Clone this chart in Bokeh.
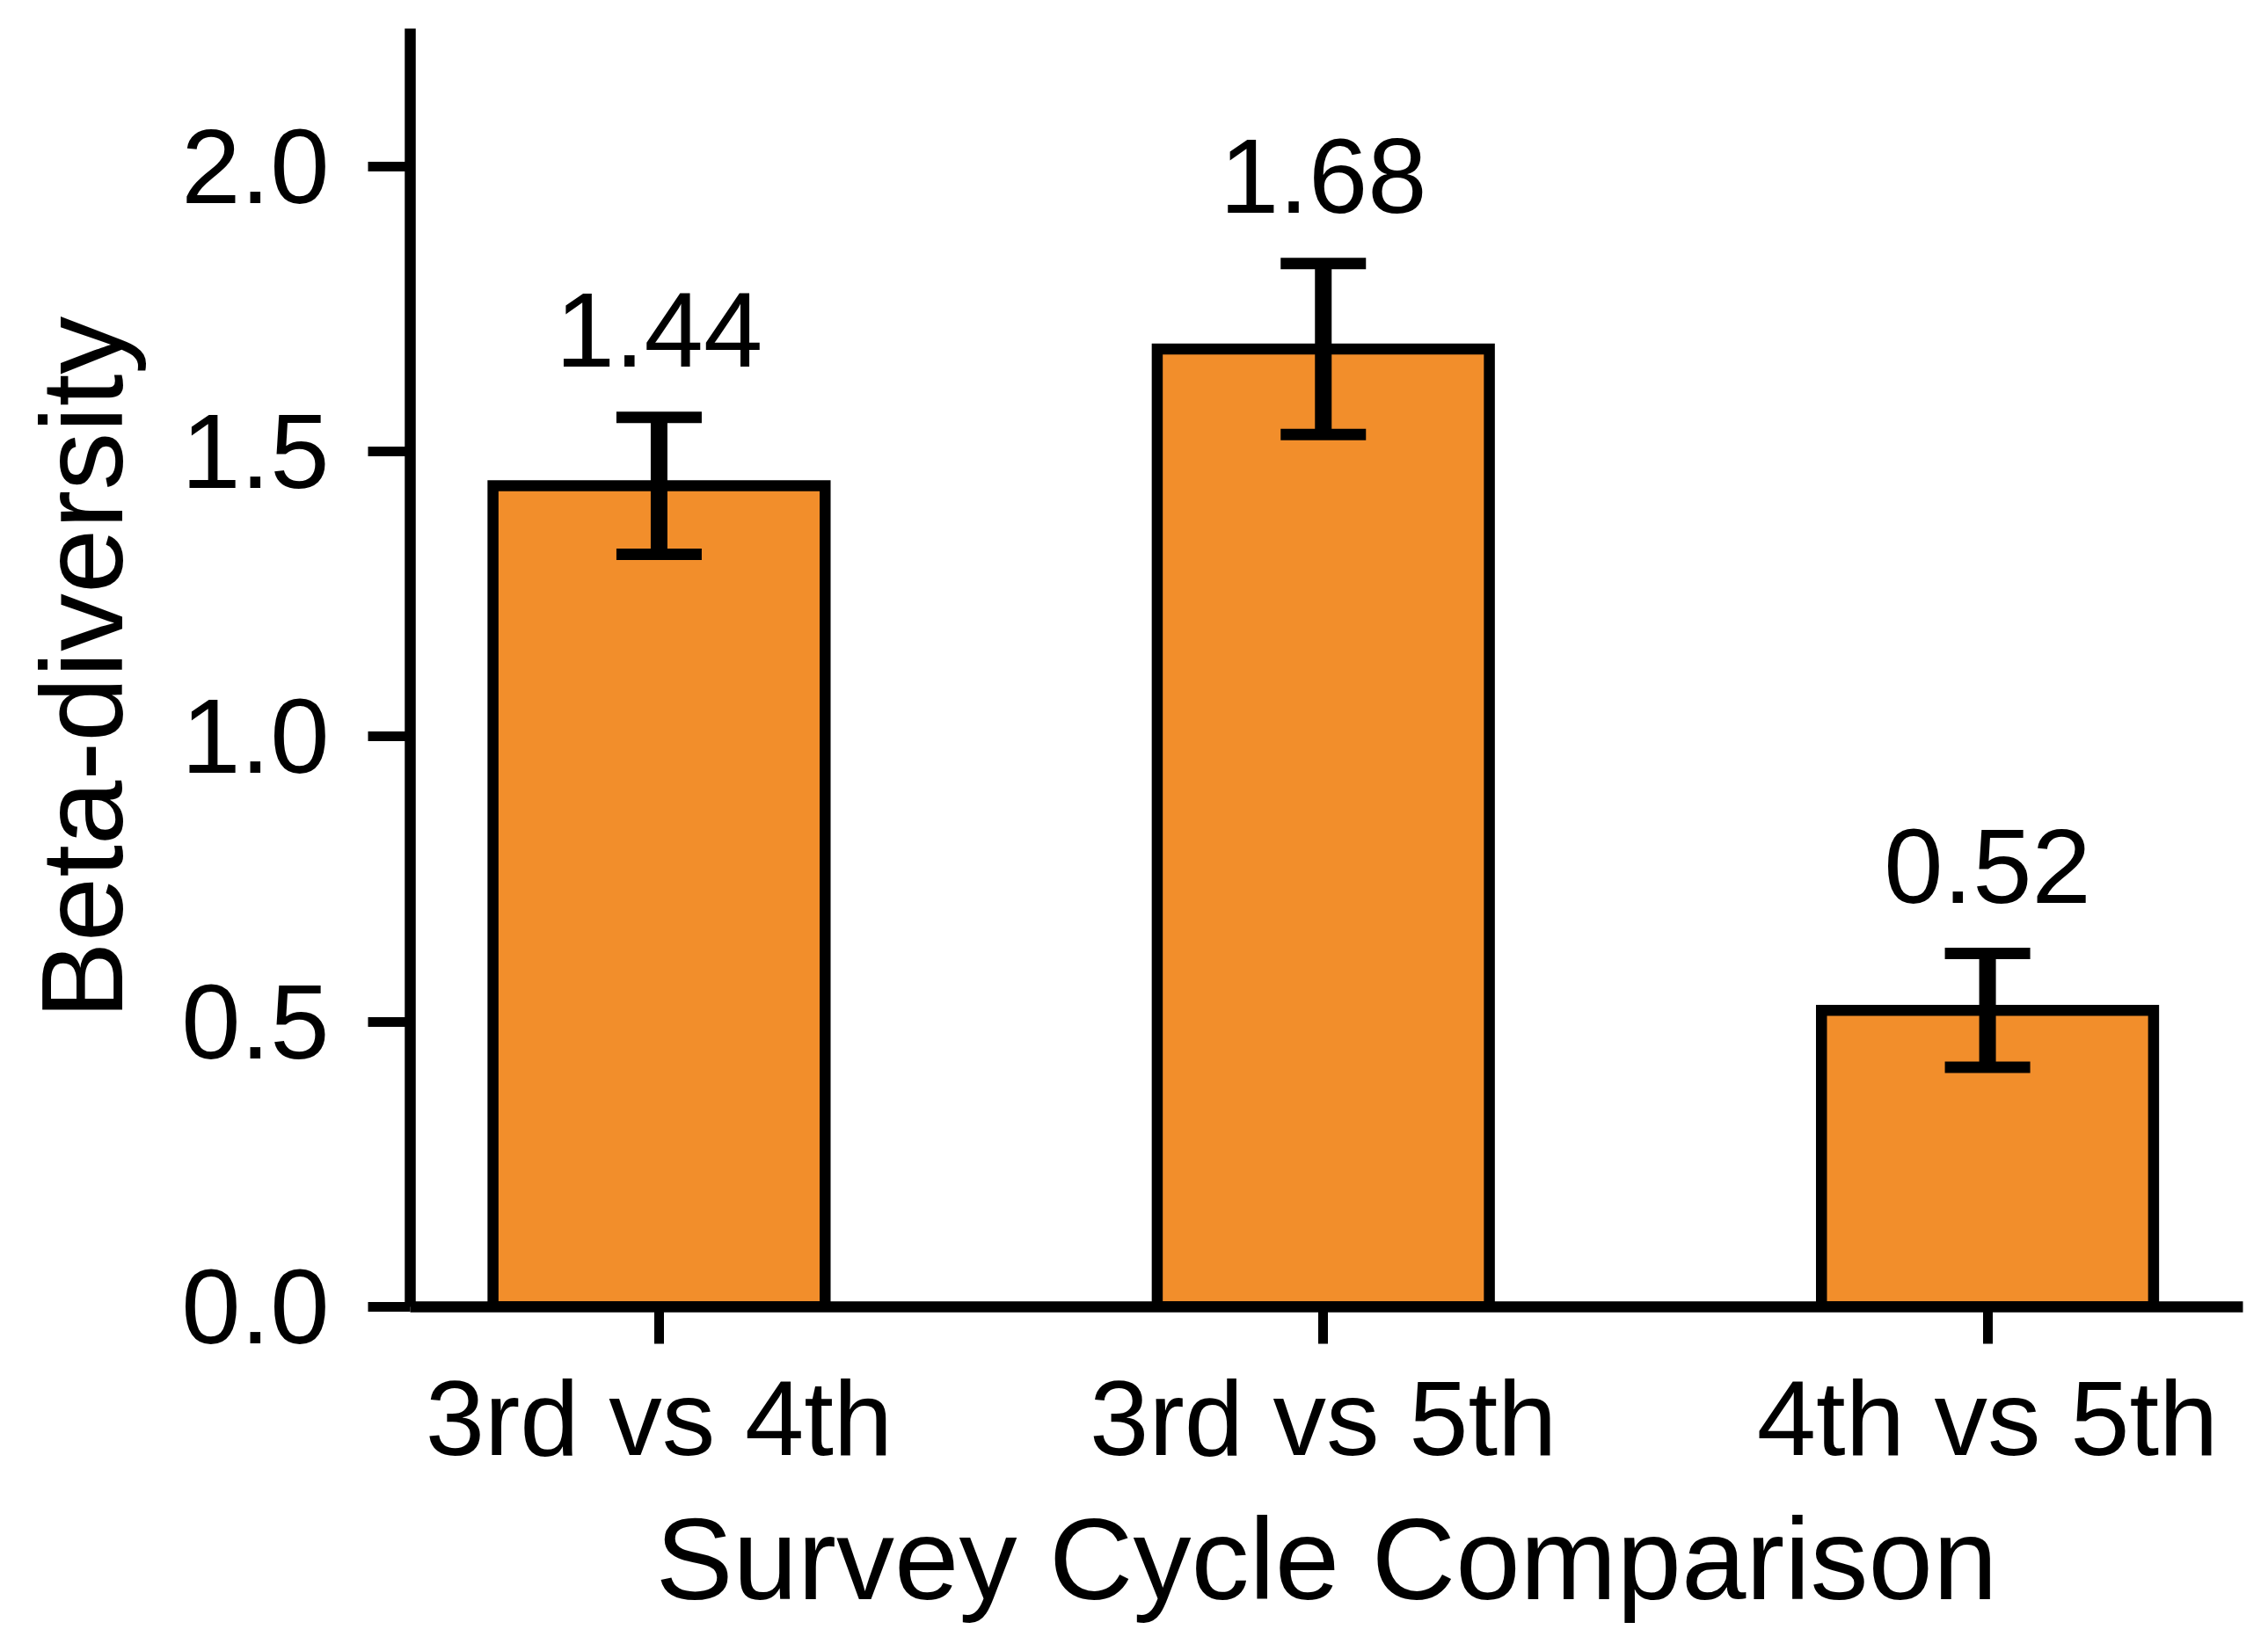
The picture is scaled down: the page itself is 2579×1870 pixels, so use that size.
from bokeh.plotting import figure
from bokeh.models import ColumnDataSource, Range1d, FixedTicker, Whisker, TeeHead, NumeralTickFormatter
from bokeh.core.properties import value
from bokeh.embed import file_html
from bokeh.resources import INLINE

categories = ["3rd vs 4th", "3rd vs 5th", "4th vs 5th"]
beta = [1.44, 1.68, 0.52]
err = [0.12, 0.15, 0.10]
y_ticks = [0.0, 0.5, 1.0, 1.5, 2.0]

xs = list(range(len(categories)))
src = ColumnDataSource(dict(
    x=xs, top=beta,
    upper=[b + e for b, e in zip(beta, err)],
    lower=[b - e for b, e in zip(beta, err)],
    label=[f"{b:.2f}" for b in beta],
))

FONT = "Liberation Sans"

p = figure(frame_width=2084, frame_height=1454,
           x_range=Range1d(-0.3746, 2.3845), y_range=Range1d(0, 2.242),
           output_backend="svg", toolbar_location=None,
           min_border_left=466, min_border_right=13, min_border_top=32, min_border_bottom=368)
p.outline_line_color = None
p.background_fill_color = "white"
p.border_fill_color = "white"
p.xgrid.visible = False
p.ygrid.visible = False

p.vbar(x="x", top="top", bottom=0, width=0.5, source=src,
       fill_color="#F28E2B", line_color="black", line_width=12.5, line_join="miter")

wh = Whisker(base="x", upper="upper", lower="lower", source=src,
             line_color="black", line_width=19, level="overlay",
             upper_head=TeeHead(size=97, line_color="black", line_width=13),
             lower_head=TeeHead(size=97, line_color="black", line_width=13))
p.add_layout(wh)

p.text(x="x", y="upper", text="label", source=src, y_offset=-99,
       text_align="center", text_baseline="alphabetic",
       text_font=value(FONT), text_font_size="121px", text_color="black")

# x axis
xa = p.xaxis[0]
xa.ticker = FixedTicker(ticks=xs)
xa.major_label_overrides = {i: c for i, c in enumerate(categories)}
xa.axis_label = "Survey Cycle Comparison"
xa.minor_tick_line_color = None
xa.major_tick_in = 0
xa.major_tick_out = 42
xa.major_tick_line_width = 11
xa.axis_line_width = 12.5
xa.major_label_standoff = 16
xa.axis_label_standoff = 16
xa.major_label_text_font = FONT
xa.major_label_text_font_size = "121px"
xa.axis_label_text_font = FONT
xa.axis_label_text_font_size = "132px"
xa.axis_label_text_font_style = "normal"
xa.major_label_text_color = "black"
xa.axis_label_text_color = "black"

# y axis
ya = p.yaxis[0]
ya.ticker = FixedTicker(ticks=y_ticks)
ya.formatter = NumeralTickFormatter(format="0.0")
ya.axis_label = "Beta-diversity"
ya.minor_tick_line_color = None
ya.major_tick_in = 0
ya.major_tick_out = 48
ya.major_tick_line_width = 11
ya.axis_line_width = 12.5
ya.major_label_standoff = 44
ya.axis_label_standoff = 36
ya.major_label_text_font = FONT
ya.major_label_text_font_size = "121px"
ya.axis_label_text_font = FONT
ya.axis_label_text_font_size = "132px"
ya.axis_label_text_font_style = "normal"
ya.major_label_text_color = "black"
ya.axis_label_text_color = "black"

open("out.html", "w").write(file_html(p, INLINE))
